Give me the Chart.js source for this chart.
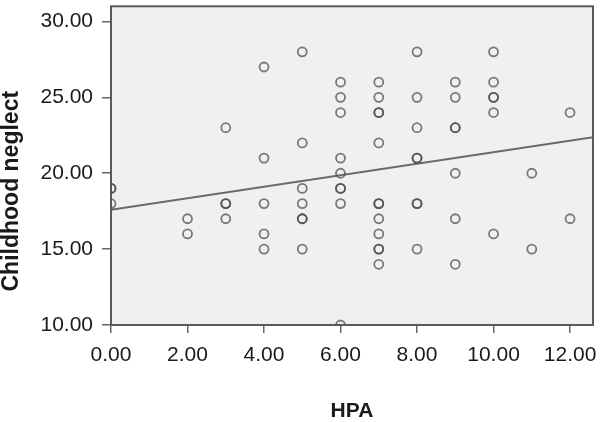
<!DOCTYPE html>
<html>
<head>
<meta charset="utf-8">
<script src="https://cdn.jsdelivr.net/npm/chart.js@4"></script>
<style>
  html, body { margin: 0; padding: 0; background: #fff; }
  #wrap { width: 600px; height: 422px; }
</style>
</head>
<body>
<div id="wrap"><canvas id="chart"></canvas></div>
<script>
// HPA score (x) and childhood neglect score (y), one pair per subject
const hpa = [
  0, 0, 0,
  2, 2,
  3, 3, 3, 3,
  4, 4, 4, 4, 4,
  5, 5, 5, 5, 5, 5, 5,
  6, 6, 6, 6, 6, 6, 6, 6, 6,
  7, 7, 7, 7, 7, 7, 7, 7, 7, 7, 7, 7,
  8, 8, 8, 8, 8, 8, 8, 8,
  9, 9, 9, 9, 9, 9, 9,
  10, 10, 10, 10, 10, 10,
  11, 11,
  12, 12
];
const neglect = [
  19, 19, 18,
  17, 16,
  23, 18, 18, 17,
  27, 21, 18, 16, 15,
  28, 22, 19, 18, 17, 17, 15,
  26, 25, 24, 21, 20, 19, 19, 18, 10,
  26, 25, 24, 24, 22, 18, 18, 17, 16, 15, 15, 14,
  28, 25, 23, 21, 21, 18, 18, 15,
  26, 25, 23, 23, 20, 17, 14,
  28, 26, 25, 25, 24, 16,
  20, 15,
  24, 17
];

// fitted line (ends at the plot edges)
const fitX = [0, 12.6];
const fitY = [17.6, 22.38];

const xTicks = [0, 2, 4, 6, 8, 10, 12];
const yTicks = [10, 15, 20, 25, 30];

const points = hpa.map((x, i) => ({ x: x, y: neglect[i] }));
const fitLine = fitX.map((x, i) => ({ x: x, y: fitY[i] }));

const fontFamily = "'Liberation Sans', Arial, sans-serif";

// light grey plot area with a dark frame
const plotFrame = {
  id: "plotFrame",
  beforeDraw(chart) {
    const { ctx, chartArea: a } = chart;
    ctx.save();
    ctx.fillStyle = "#f0f0f0";
    ctx.fillRect(a.left, a.top, a.right - a.left, a.bottom - a.top);
    ctx.restore();
  },
  beforeDatasetsDraw(chart) {
    const { ctx, chartArea: a } = chart;
    ctx.save();
    ctx.strokeStyle = "#5a5a5a";
    ctx.lineWidth = 2;
    ctx.strokeRect(a.left, a.top, a.right - a.left, a.bottom - a.top);
    ctx.restore();
  }
};

new Chart(document.getElementById("chart"), {
  type: "scatter",
  data: {
    datasets: [
      {
        label: "Childhood neglect",
        data: points,
        pointStyle: "circle",
        pointRadius: 4.5,
        pointHoverRadius: 4.5,
        pointBorderWidth: 1.8,
        borderColor: "rgba(70, 70, 70, 0.7)",
        backgroundColor: "rgba(0, 0, 0, 0)"
      },
      {
        label: "Fit",
        type: "line",
        data: fitLine,
        borderColor: "#6a6a6a",
        borderWidth: 2,
        pointRadius: 0,
        fill: false
      }
    ]
  },
  options: {
    responsive: true,
    maintainAspectRatio: false,
    animation: false,
    layout: { padding: { top: 3, right: 7, left: 0, bottom: 0 } },
    plugins: {
      legend: { display: false },
      tooltip: { enabled: false }
    },
    scales: {
      x: {
        type: "linear",
        min: 0,
        max: 12.6,
        afterFit(scale) {
          scale.height = 97;
          // labels may overhang the frame, as in the original
          scale.paddingLeft = 0;
          scale.paddingRight = 0;
        },
        afterBuildTicks(scale) { scale.ticks = xTicks.map(v => ({ value: v })); },
        border: { display: false },
        grid: { drawOnChartArea: false, drawTicks: true, tickLength: 8, color: "#666", lineWidth: 1.5 },
        ticks: {
          padding: 10,
          maxRotation: 0,
          autoSkip: false,
          color: "#1a1a1a",
          font: { family: fontFamily, size: 21 },
          callback: v => Number(v).toFixed(2)
        },
        title: {
          display: true,
          text: "HPA",
          color: "#1a1a1a",
          padding: { top: 0, bottom: 0 },
          font: { family: fontFamily, size: 21, weight: "bold", lineHeight: 1 }
        }
      },
      y: {
        type: "linear",
        min: 10,
        max: 31,
        afterFit(scale) {
          scale.width = 111;
          scale.paddingTop = 0;
          scale.paddingBottom = 0;
        },
        afterBuildTicks(scale) { scale.ticks = yTicks.map(v => ({ value: v })); },
        border: { display: false },
        grid: { drawOnChartArea: false, drawTicks: true, tickLength: 9, color: "#666", lineWidth: 1.5 },
        ticks: {
          padding: 9,
          autoSkip: false,
          color: "#1a1a1a",
          font: { family: fontFamily, size: 21 },
          callback: v => Number(v).toFixed(2)
        },
        title: {
          display: true,
          // trailing spaces nudge the centred title down like in the original
          text: "Childhood neglect        ",
          color: "#1a1a1a",
          padding: { top: 0, bottom: 0 },
          font: { family: fontFamily, size: 23, weight: "bold", lineHeight: 1 }
        }
      }
    }
  },
  plugins: [plotFrame]
});
</script>
</body>
</html>
